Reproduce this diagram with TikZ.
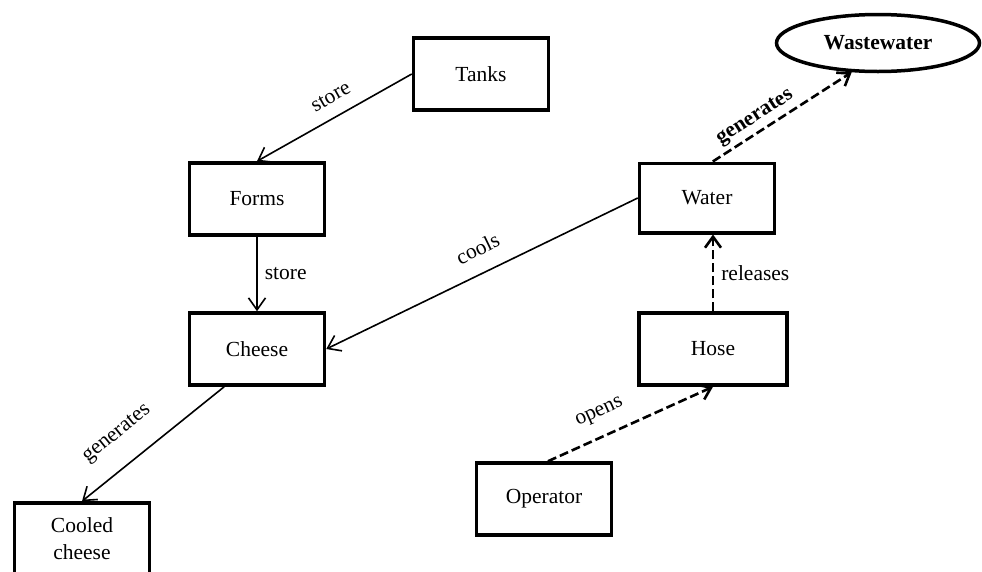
\documentclass[tikz,border=0pt]{standalone}
\usepackage{fontspec}
\setmainfont{Liberation Serif}
\usetikzlibrary{arrows.meta,shapes.geometric}

\begin{document}
\begin{tikzpicture}[x=1pt,y=-1pt,
  box/.style={draw, line width=3.5pt, minimum width=135pt, minimum height=72pt,
    inner sep=2pt, align=center, font=\fontsize{21.5}{27}\selectfont},
  oval/.style={draw, ellipse, line width=3.5pt, minimum width=203pt, minimum height=57pt,
    inner sep=0pt, font=\bfseries\fontsize{21.5}{24}\selectfont},
  link/.style={line width=1.6pt, -{Straight Barb[length=12pt,width=17pt]}},
  dlink/.style={line width=2.6pt, dash pattern=on 9pt off 4pt,
    -{Straight Barb[length=11pt,width=16pt]}},
  lbl/.style={font=\fontsize{21.5}{24}\selectfont, inner sep=3pt},
  blbl/.style={font=\bfseries\fontsize{21.5}{24}\selectfont, inner sep=2pt}
]
\useasboundingbox (0,0) rectangle (982,571);

% entities
\node[box] (tanks) at (481,74) {Tanks};
\node[box] (forms) at (257,199) {Forms};
\node[box] (cheese) at (257,349) {Cheese};
\node[box] (cooled) at (82,539) {Cooled\\cheese};
\node[box, minimum height=69.5pt] (water) at (707,198) {Water};
\node[box, minimum width=148pt] (hose) at (713,349) {Hose};
\node[box] (operator) at (544,499) {Operator};
\node[oval] (waste) at (878,43) {Wastewater};

% relations
\draw[link] (tanks.west) -- node[lbl, sloped, above=10pt, pos=0.46] {store} (forms.north);
\draw[link] (forms.south) -- node[lbl, right=4pt] {store} (cheese.north);
\draw[link] (water.west) -- node[lbl, sloped, above=13pt, pos=0.48] {cools} (cheese.east);
\draw[link] (cheese.229) -- node[lbl, sloped, above=18pt, pos=0.62] {generates} (cooled.north);

\draw[dlink] (water.81) -- node[blbl, sloped, above=2pt, pos=0.36] {generates} (waste.228);
\draw[dlink] (hose.north) -- node[lbl, right=4pt] {releases} (hose.north |- water.south);
\draw[dlink] (operator.84) -- node[lbl, sloped, above=11pt, pos=0.37] {opens} (hose.south);
\end{tikzpicture}
\end{document}
